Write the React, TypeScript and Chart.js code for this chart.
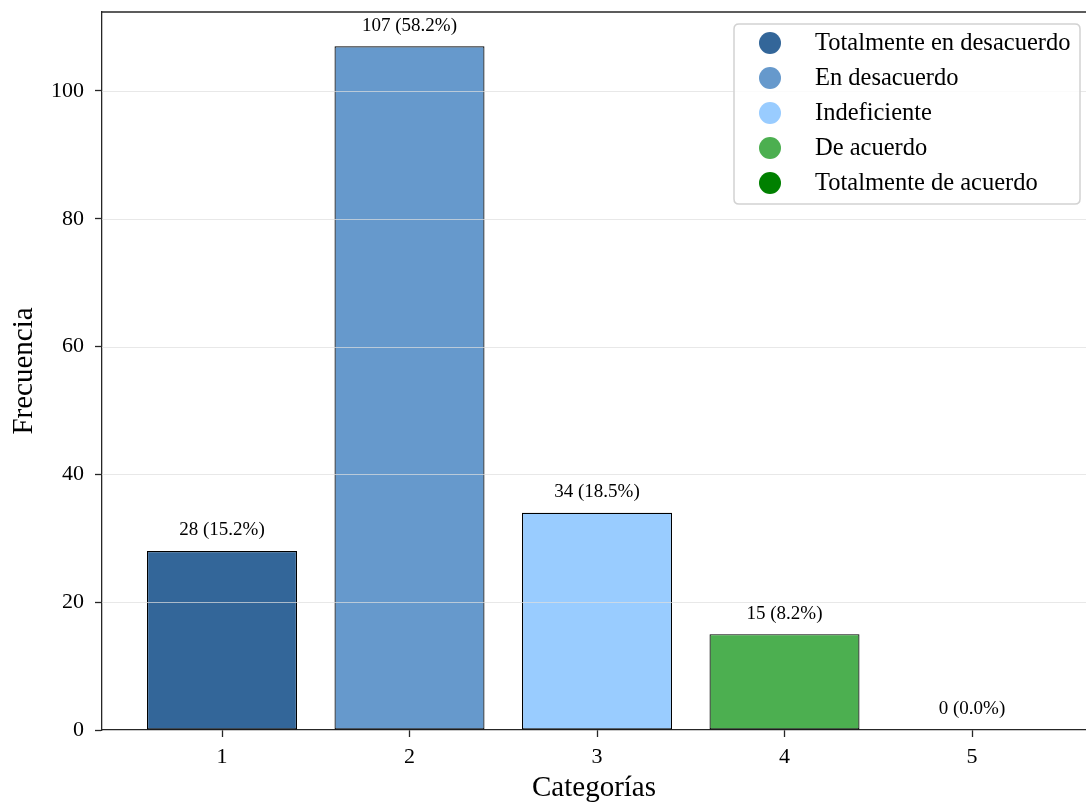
import React, { useEffect, useRef } from "react";
import { Chart, registerables } from "chart.js";

Chart.register(...registerables);

const categories = [1, 2, 3, 4, 5];
const frequencies = [28, 107, 34, 15, 0];
const legendLabels = [
  "Totalmente en desacuerdo",
  "En desacuerdo",
  "Indeficiente",
  "De acuerdo",
  "Totalmente de acuerdo",
];
const barColors = ["#336699", "#6699CC", "#99CCFF", "#4CAF50", "#008000"];
const yTickValues = [0, 20, 40, 60, 80, 100];
const xTickValues = [1, 2, 3, 4, 5];
const xAxisTitle = "Categorías";
const yAxisTitle = "Frecuencia";

const FONT = "'Liberation Serif', 'Times New Roman', Times, serif";
const SPINE = "#262626";

const overlayPlugin = {
  id: "overlay",
  afterDatasetsDraw(chart: any) {
    const { ctx, chartArea, scales } = chart;
    const xs = scales.x;
    const ys = scales.y;
    ctx.save();
    // horizontal grid drawn over the bars
    ctx.strokeStyle = "rgba(222,222,222,0.7)";
    ctx.lineWidth = 1.2;
    yTickValues.forEach((v) => {
      if (v === 0) return;
      const py = Math.round(ys.getPixelForValue(v)) + 0.5;
      ctx.beginPath();
      ctx.moveTo(chartArea.left, py);
      ctx.lineTo(chartArea.right, py);
      ctx.stroke();
    });
    // top spine
    ctx.strokeStyle = SPINE;
    ctx.lineWidth = 1.3;
    ctx.beginPath();
    ctx.moveTo(chartArea.left, chartArea.top);
    ctx.lineTo(chartArea.right, chartArea.top);
    ctx.stroke();

    // value labels
    const total = frequencies.reduce((a, b) => a + b, 0);
    ctx.font = `19px ${FONT}`;
    ctx.fillStyle = "#000";
    ctx.textAlign = "center";
    ctx.textBaseline = "alphabetic";
    categories.forEach((c, i) => {
      const v = frequencies[i];
      const px = xs.getPixelForValue(c);
      const py = ys.getPixelForValue(v + 1.5);
      const pct = ((v / total) * 100).toFixed(1);
      ctx.fillText(`${v} (${pct}%)`, px, py - 6);
    });

    // legend
    const boxRight = chartArea.right - 6;
    const boxLeft = boxRight - 346;
    const boxTop = chartArea.top + 12;
    const boxH = 180;
    const r = 5;
    ctx.beginPath();
    ctx.moveTo(boxLeft + r, boxTop);
    ctx.lineTo(boxRight - r, boxTop);
    ctx.quadraticCurveTo(boxRight, boxTop, boxRight, boxTop + r);
    ctx.lineTo(boxRight, boxTop + boxH - r);
    ctx.quadraticCurveTo(boxRight, boxTop + boxH, boxRight - r, boxTop + boxH);
    ctx.lineTo(boxLeft + r, boxTop + boxH);
    ctx.quadraticCurveTo(boxLeft, boxTop + boxH, boxLeft, boxTop + boxH - r);
    ctx.lineTo(boxLeft, boxTop + r);
    ctx.quadraticCurveTo(boxLeft, boxTop, boxLeft + r, boxTop);
    ctx.closePath();
    ctx.fillStyle = "rgba(255,255,255,0.85)";
    ctx.fill();
    ctx.strokeStyle = "#d2d2d2";
    ctx.lineWidth = 1.5;
    ctx.stroke();

    ctx.font = `24.5px ${FONT}`;
    ctx.textAlign = "left";
    ctx.textBaseline = "middle";
    legendLabels.forEach((lab, i) => {
      const cy = boxTop + 19 + i * 35;
      ctx.beginPath();
      ctx.arc(boxLeft + 36, cy, 11, 0, Math.PI * 2);
      ctx.fillStyle = barColors[i];
      ctx.fill();
      ctx.fillStyle = "#000";
      ctx.fillText(lab, boxLeft + 81, cy + 1);
    });
    ctx.restore();
  },
};

export default function App() {
  const canvasRef = useRef<HTMLCanvasElement | null>(null);

  useEffect(() => {
    const canvas = canvasRef.current;
    if (!canvas) return;
    const chart = new Chart(canvas, {
      type: "bar",
      data: {
        datasets: [
          {
            data: categories.map((c, i) => ({ x: c, y: frequencies[i] })),
            backgroundColor: barColors,
            borderColor: "#000",
            borderWidth: 1.2,
            borderSkipped: false,
            barPercentage: 0.8,
            categoryPercentage: 1.0,
          },
        ],
      },
      options: {
        responsive: false,
        animation: false,
        devicePixelRatio: 1,
        layout: { padding: { top: 12, left: 0, right: 0, bottom: 0 }, autoPadding: false },
        plugins: {
          legend: { display: false },
          tooltip: { enabled: false },
        },
        scales: {
          x: {
            type: "linear",
            offset: false,
            min: 0.36,
            max: 5.608,
            afterBuildTicks: (scale: any) => {
              scale.ticks = xTickValues.map((v) => ({ value: v }));
            },
            afterFit: (scale: any) => {
              scale.height = 76;
              scale.paddingLeft = 0;
              scale.paddingRight = 0;
              scale.paddingTop = 0;
              scale.paddingBottom = 0;
            },
            grid: {
              offset: false,
              drawOnChartArea: false,
              drawTicks: true,
              tickLength: 7,
              tickWidth: 1.3,
              tickColor: SPINE,
            },
            border: { display: true, color: SPINE, width: 1.3 },
            ticks: {
              color: "#000",
              font: { family: FONT, size: 22 },
              padding: 7,
              maxRotation: 0,
              autoSkip: false,
              callback: (v: any) => String(v),
            },
            title: {
              display: true,
              text: xAxisTitle,
              color: "#000",
              font: { family: FONT, size: 29 },
              padding: { top: 0, bottom: 0 },
            },
          },
          y: {
            type: "linear",
            min: 0,
            max: 112.35,
            afterBuildTicks: (scale: any) => {
              scale.ticks = yTickValues.map((v) => ({ value: v }));
            },
            afterFit: (scale: any) => {
              scale.width = 102;
              scale.paddingLeft = 0;
              scale.paddingRight = 0;
              scale.paddingTop = 0;
              scale.paddingBottom = 0;
            },
            grid: {
              drawOnChartArea: false,
              drawTicks: true,
              tickLength: 7,
              tickWidth: 1.3,
              tickColor: SPINE,
            },
            border: { display: true, color: SPINE, width: 1.3 },
            ticks: {
              color: "#000",
              font: { family: FONT, size: 22 },
              padding: 11,
              callback: (v: any) => String(v),
            },
            title: {
              display: true,
              text: yAxisTitle,
              color: "#000",
              font: { family: FONT, size: 29 },
              padding: { top: 7, bottom: 4 },
            },
          },
        },
      },
      plugins: [overlayPlugin],
    });
    return () => chart.destroy();
  }, []);

  return (
    <div style={{ position: "fixed", left: 0, top: 0, width: 1086, height: 806, background: "#fff" }}>
      <canvas ref={canvasRef} width={1086} height={806} style={{ width: 1086, height: 806 }} />
    </div>
  );
}
